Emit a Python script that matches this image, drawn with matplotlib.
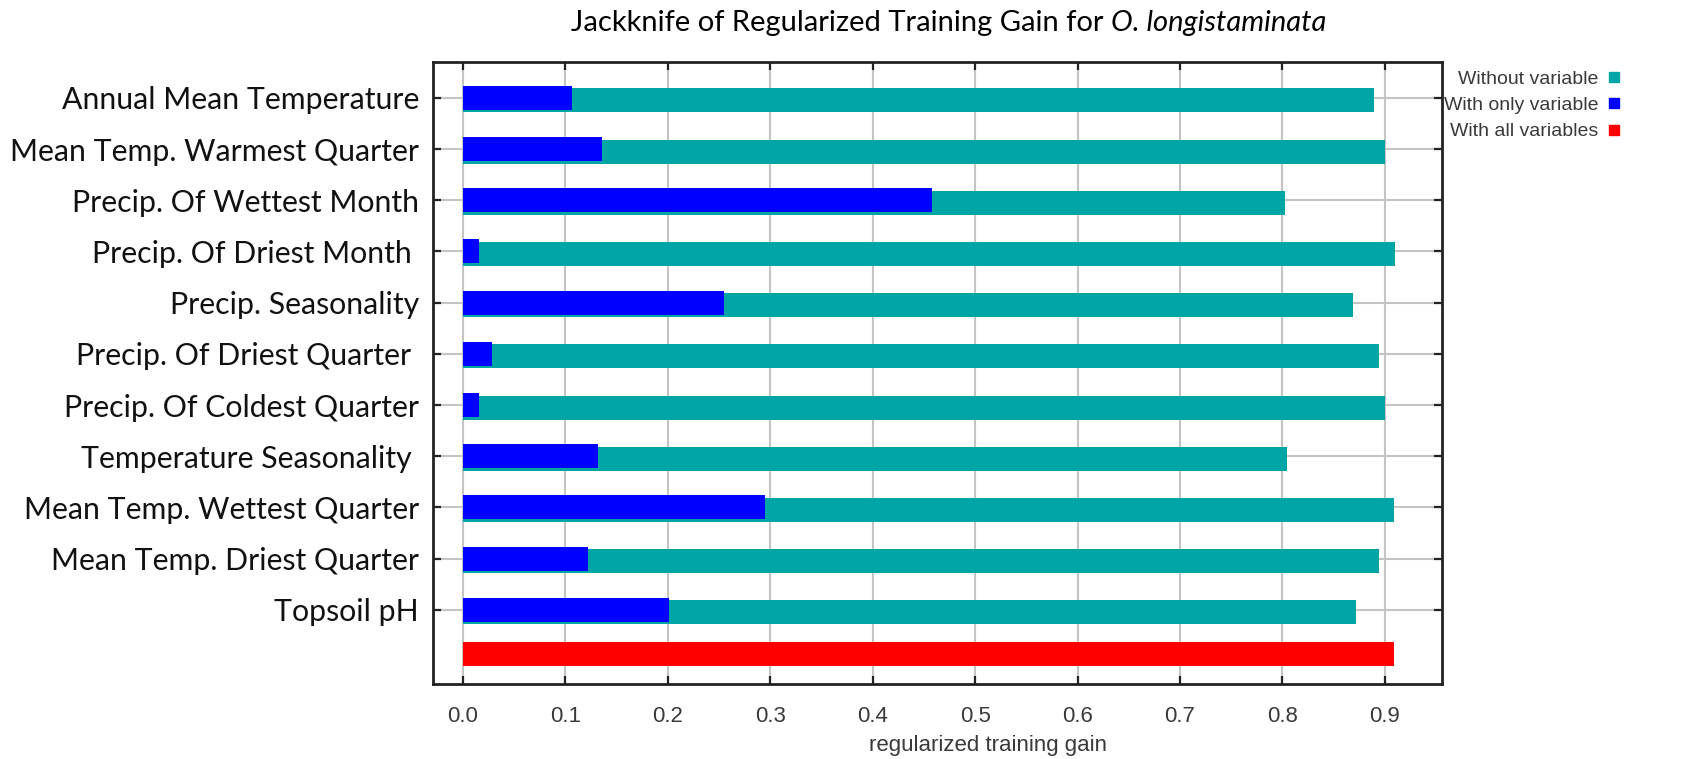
import numpy as np
import matplotlib
matplotlib.use("Agg")
import matplotlib.pyplot as plt
from matplotlib.lines import Line2D

# Jackknife results per environmental variable (regularized training gain)
variables = [
    "Annual Mean Temperature",
    "Mean Temp. Warmest Quarter",
    "Precip. Of Wettest Month",
    "Precip. Of Driest Month ",
    "Precip. Seasonality",
    "Precip. Of Driest Quarter ",
    "Precip. Of Coldest Quarter",
    "Temperature Seasonality ",
    "Mean Temp. Wettest Quarter",
    "Mean Temp. Driest Quarter",
    "Topsoil pH",
]
gain_without = [0.889, 0.900, 0.803, 0.910, 0.869, 0.894, 0.900, 0.805, 0.909, 0.894, 0.872]
gain_only = [0.106, 0.136, 0.458, 0.016, 0.255, 0.028, 0.016, 0.132, 0.295, 0.122, 0.201]
gain_all = 0.909

x_ticks = [0.0, 0.1, 0.2, 0.3, 0.4, 0.5, 0.6, 0.7, 0.8, 0.9]
legend_labels = ["Without variable", "With only variable", "With all variables"]

TEAL = "#00a6a6"
BLUE = "#0000ff"
RED = "#ff0000"
LABEL_FONT = ["Lato", "DejaVu Sans"]
TICK_FONT = ["Liberation Sans Narrow", "Liberation Sans", "DejaVu Sans"]

fig = plt.figure(figsize=(16.82, 7.59), dpi=100)
ax = fig.add_axes([0.2574, 0.0988, 0.6, 0.8195])

rows = np.arange(len(variables))
ax.barh(rows + 0.05, gain_without, height=0.47, color=TEAL, zorder=2)
ax.barh(rows, gain_only, height=0.47, color=BLUE, zorder=3)
ax.barh(len(variables) - 0.14, gain_all, height=0.46, color=RED, zorder=2)

ax.set_xlim(-0.0293, 0.956)
ax.set_ylim(11.45, -0.70)

ax.set_xticks(x_ticks)
ax.set_xticklabels([f"{v:.1f}" for v in x_ticks], family=TICK_FONT,
                   fontsize=16, color="#3a3a3a")
ax.set_yticks(rows)
ax.set_yticklabels(variables, family=LABEL_FONT, fontsize=21.8, color="#111111")

ax.grid(True, color="#c4c4c4", linewidth=1.5)
ax.set_axisbelow(True)
ax.tick_params(axis="both", direction="in", top=True, right=True,
               length=6, width=1.6, color="#222222")
ax.tick_params(axis="x", pad=16)
ax.tick_params(axis="y", pad=10)
for spine in ax.spines.values():
    spine.set_linewidth(2)
    spine.set_color("#222222")

# title: plain text followed by the italic species name
fig.canvas.draw()
renderer = fig.canvas.get_renderer()
title_y = 1 - 23 / 759
t1 = fig.text(0, title_y, "Jackknife of Regularized Training Gain for ",
              family=LABEL_FONT, fontsize=21, va="center", ha="left")
t2 = fig.text(0, title_y, "O. longistaminata", family=LABEL_FONT,
              fontsize=21, style="italic", va="center", ha="left")
w1 = t1.get_window_extent(renderer).width
w2 = t2.get_window_extent(renderer).width
start = 949 - (w1 + w2) / 2
t1.set_x(start / 1682)
t2.set_x((start + w1) / 1682)

fig.text(988 / 1682, 1 - 745 / 759, "regularized training gain",
         family=TICK_FONT, fontsize=16, color="#3a3a3a", ha="center", va="center")

handles = [Line2D([], [], linestyle="none", marker="s", markersize=7,
                  markerfacecolor=c, markeredgecolor=c) for c in (TEAL, BLUE, RED)]
fig.legend(handles, legend_labels, loc="upper right", frameon=False,
           markerfirst=False, bbox_to_anchor=(1620 / 1682, 1 - 70 / 759),
           prop={"family": TICK_FONT, "size": 14}, labelcolor="#3a3a3a",
           handlelength=0.6, handletextpad=0.5, labelspacing=0.45,
           borderpad=0, borderaxespad=0)

fig.savefig("out.png", dpi=100)
